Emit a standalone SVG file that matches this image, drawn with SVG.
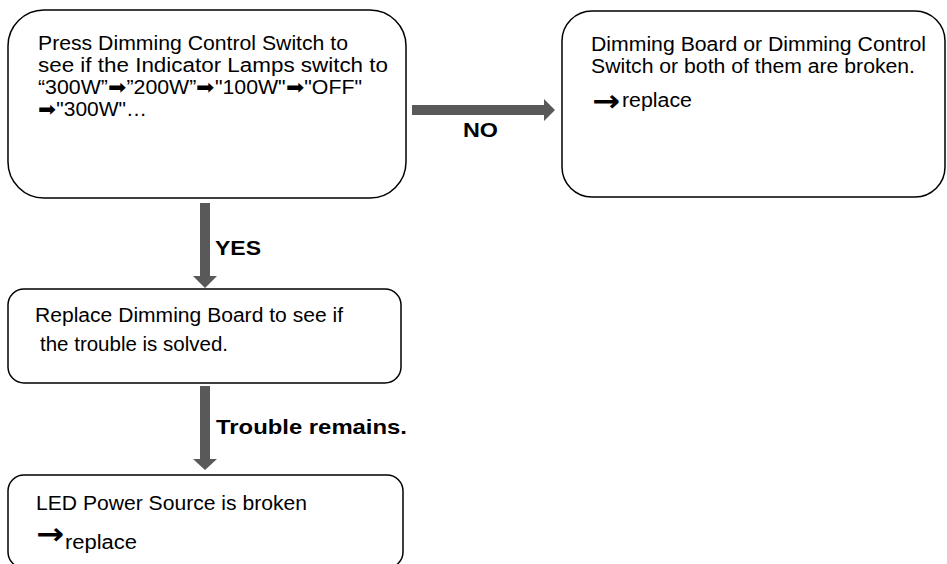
<svg xmlns="http://www.w3.org/2000/svg" width="947" height="564" viewBox="0 0 947 564">
  <style>
    .box { fill: #ffffff; stroke: #000000; stroke-width: 1.5; }
    .t { font-family: "Liberation Sans", Arial, sans-serif; font-size: 19.5px; fill: #000000; }
    .lbl { font-family: "Liberation Sans", Arial, sans-serif; font-size: 21px; font-weight: bold; fill: #000000; }
    .bul { font-family: "DejaVu Sans", sans-serif; font-size: 30px; font-weight: bold; fill: #000000; }
    .conn { fill: #595959; stroke: none; }
  </style>
  <rect width="947" height="564" fill="#ffffff"/>

  <g id="connectors">
    <polygon class="conn" points="412,105 544,105 544,99 555,110 544,121 544,115 412,115"/>
    <polygon class="conn" points="200,203 210,203 210,276 217,276 205,288 193,276 200,276"/>
    <polygon class="conn" points="200,386 210,386 210,459 217,459 205,470 193,459 200,459"/>
    <text class="lbl" x="463" y="137" textLength="35" lengthAdjust="spacingAndGlyphs">NO</text>
    <text class="lbl" x="215" y="255" textLength="46" lengthAdjust="spacingAndGlyphs">YES</text>
    <text class="lbl" x="216" y="434" textLength="191" lengthAdjust="spacingAndGlyphs">Trouble remains.</text>
  </g>

  <g id="node-check">
    <rect class="box" x="8" y="10" width="398" height="188" rx="36" ry="36"/>
    <text class="t" x="38" y="50" textLength="310" lengthAdjust="spacingAndGlyphs">Press Dimming Control Switch to</text>
    <text class="t" x="38" y="72" textLength="350" lengthAdjust="spacingAndGlyphs">see if the Indicator Lamps switch to</text>
    <text class="t" x="38" y="94" textLength="324" lengthAdjust="spacingAndGlyphs">“300W”➡”200W”➡"100W"➡"OFF"</text>
    <text class="t" x="38" y="116" textLength="109" lengthAdjust="spacingAndGlyphs">➡"300W"…</text>
  </g>

  <g id="node-broken">
    <rect class="box" x="562" y="11" width="383" height="186" rx="30" ry="30"/>
    <text class="t" x="591" y="51" textLength="335" lengthAdjust="spacingAndGlyphs">Dimming Board or Dimming Control</text>
    <text class="t" x="591" y="73" textLength="324" lengthAdjust="spacingAndGlyphs">Switch or both of them are broken.</text>
    <text class="bul" x="592" y="111" textLength="28" lengthAdjust="spacingAndGlyphs">→</text>
    <text class="t" x="622" y="107" textLength="70" lengthAdjust="spacingAndGlyphs">replace</text>
  </g>

  <g id="node-replace-board">
    <rect class="box" x="8" y="289" width="393" height="94" rx="16" ry="16"/>
    <text class="t" x="35" y="322" textLength="308" lengthAdjust="spacingAndGlyphs">Replace Dimming Board to see if</text>
    <text class="t" x="40" y="351" textLength="188" lengthAdjust="spacingAndGlyphs">the trouble is solved.</text>
  </g>

  <g id="node-power">
    <rect class="box" x="8" y="475" width="395" height="93" rx="16" ry="16"/>
    <text class="t" x="36" y="510" textLength="271" lengthAdjust="spacingAndGlyphs">LED Power Source is broken</text>
    <text class="bul" x="36" y="544" textLength="28" lengthAdjust="spacingAndGlyphs">→</text>
    <text class="t" x="65" y="549" textLength="72" lengthAdjust="spacingAndGlyphs">replace</text>
  </g>
</svg>
